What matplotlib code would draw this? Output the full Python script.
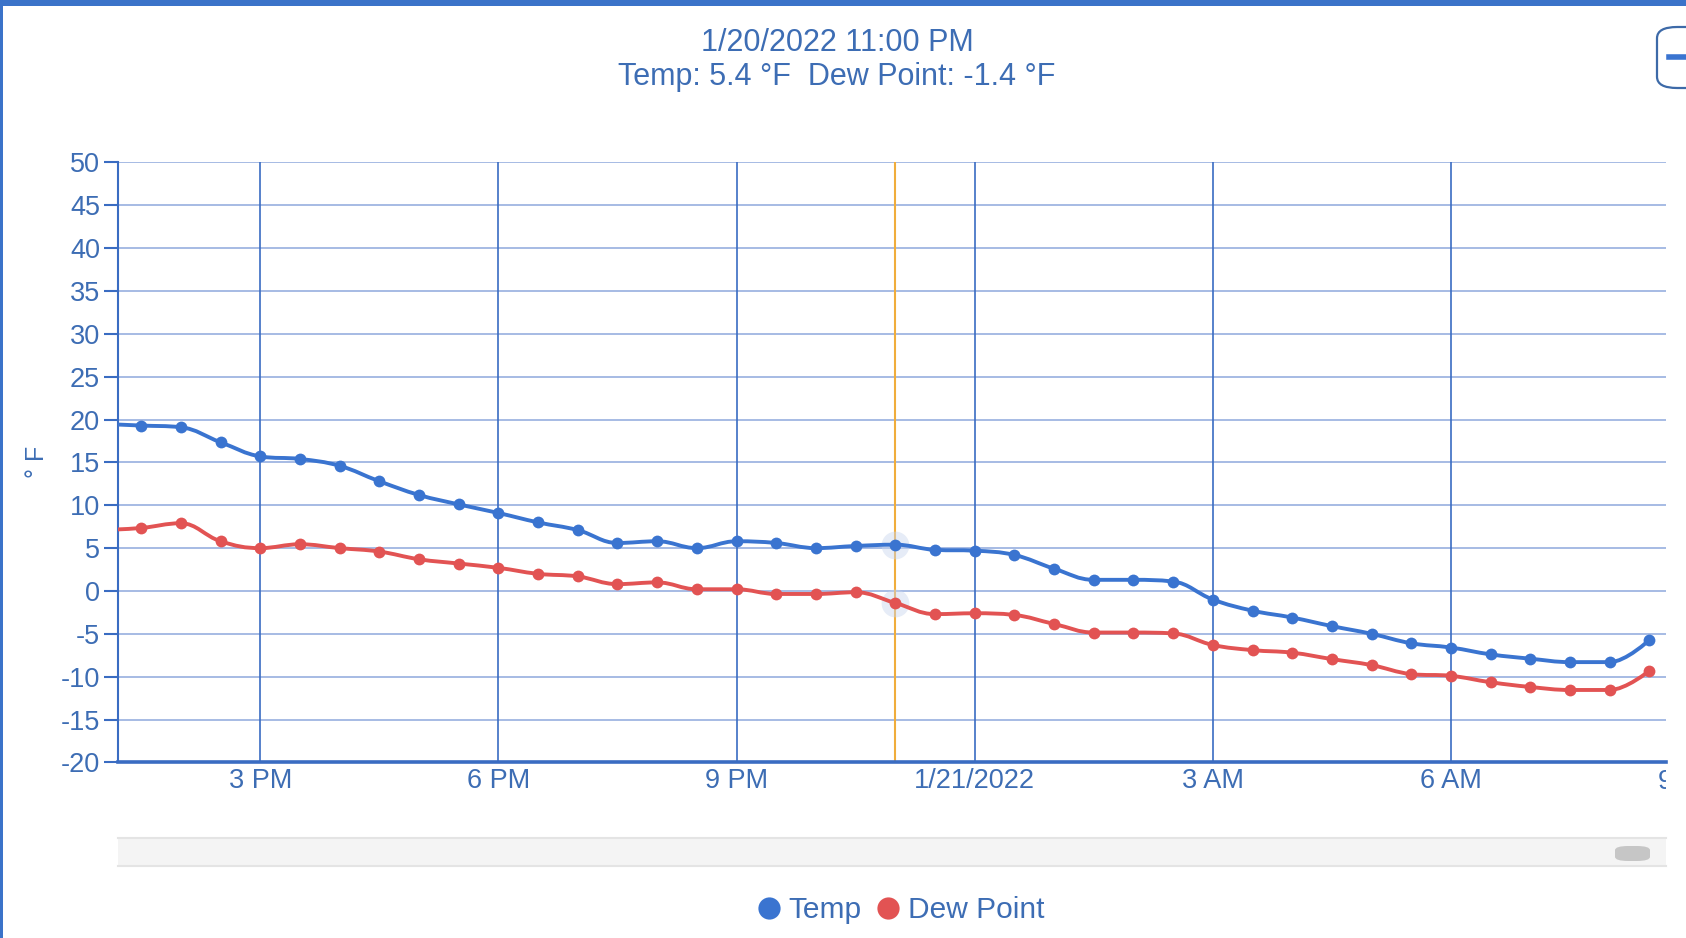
"""Temp / dew point chart, 1/20/2022 - 1/21/2022."""
import matplotlib.dates as mdates
import matplotlib.pyplot as plt
import numpy as np
import pandas as pd
from matplotlib.lines import Line2D
from matplotlib.patches import FancyBboxPatch, PathPatch, Rectangle
from matplotlib.path import Path
from matplotlib.transforms import Bbox, TransformedBbox

W, H = 1686, 938

TIMES = [
    "2022-01-20 13:00", "2022-01-20 13:30", "2022-01-20 14:00", "2022-01-20 14:30",
    "2022-01-20 15:00", "2022-01-20 15:30", "2022-01-20 16:00", "2022-01-20 16:30",
    "2022-01-20 17:00", "2022-01-20 17:30", "2022-01-20 18:00", "2022-01-20 18:30",
    "2022-01-20 19:00", "2022-01-20 19:30", "2022-01-20 20:00", "2022-01-20 20:30",
    "2022-01-20 21:00", "2022-01-20 21:30", "2022-01-20 22:00", "2022-01-20 22:30",
    "2022-01-20 23:00", "2022-01-20 23:30", "2022-01-21 00:00", "2022-01-21 00:30",
    "2022-01-21 01:00", "2022-01-21 01:30", "2022-01-21 02:00", "2022-01-21 02:30",
    "2022-01-21 03:00", "2022-01-21 03:30", "2022-01-21 04:00", "2022-01-21 04:30",
    "2022-01-21 05:00", "2022-01-21 05:30", "2022-01-21 06:00", "2022-01-21 06:30",
    "2022-01-21 07:00", "2022-01-21 07:30", "2022-01-21 08:00", "2022-01-21 08:30",
]
TEMP = [
    19.5, 19.3, 19.1, 17.35, 15.7, 15.4, 14.6, 12.8, 11.2, 10.1,
    9.1, 8.0, 7.1, 5.6, 5.8, 5.0, 5.8, 5.6, 5.0, 5.25,
    5.4, 4.8, 4.7, 4.2, 2.6, 1.3, 1.3, 1.1, -1.0, -2.3,
    -3.1, -4.1, -5.0, -6.1, -6.6, -7.4, -7.9, -8.3, -8.3, -5.7,
]
DEW = [
    7.1, 7.35, 7.9, 5.8, 5.0, 5.45, 5.0, 4.6, 3.7, 3.2,
    2.7, 2.0, 1.7, 0.8, 1.0, 0.2, 0.2, -0.35, -0.35, -0.15,
    -1.4, -2.7, -2.6, -2.8, -3.85, -4.85, -4.85, -4.95, -6.3, -6.9,
    -7.2, -7.95, -8.65, -9.7, -9.9, -10.65, -11.2, -11.55, -11.55, -9.3,
]
TICK_TIMES = ["2022-01-20 15:00", "2022-01-20 18:00", "2022-01-20 21:00",
              "2022-01-21 00:00", "2022-01-21 03:00", "2022-01-21 06:00"]
TICK_LABELS = ["3 PM", "6 PM", "9 PM", "1/21/2022", "3 AM", "6 AM"]
CUT_TICK_TIME, CUT_TICK_LABEL = "2022-01-21 09:00", "9 AM"
X_RANGE = ["2022-01-20 13:12:30", "2022-01-21 08:42:30"]
HOVER_TIME = "2022-01-20 23:00"
TITLE = "1/20/2022 11:00 PM"
SUBTITLE = "Temp: 5.4 °F  Dew Point: -1.4 °F"

BLUE = "#3a74d0"
RED = "#e25353"
TEXT = "#3d6db4"
AXIS = "#3a6cc2"
GRID = "#a6bbe4"

plt.rcParams["font.family"] = ["Liberation Sans", "DejaVu Sans"]
plt.rcParams["axes.unicode_minus"] = False


def num(ts):
    return mdates.date2num(pd.to_datetime(ts))


def spline_path(xs, ys, smoothing=1.5):
    """Highcharts-like spline through the points as cubic bezier path."""
    n = len(xs)
    left = [(xs[i], ys[i]) for i in range(n)]
    right = [(xs[i], ys[i]) for i in range(n)]
    denom = smoothing + 1
    for i in range(1, n - 1):
        px, py = xs[i], ys[i]
        lx, ly = xs[i - 1], ys[i - 1]
        nx, ny = xs[i + 1], ys[i + 1]
        lcx, lcy = (smoothing * px + lx) / denom, (smoothing * py + ly) / denom
        rcx, rcy = (smoothing * px + nx) / denom, (smoothing * py + ny) / denom
        corr = (rcy - lcy) * (rcx - px) / (rcx - lcx) + py - rcy
        lcy += corr
        rcy += corr
        if lcy > ly and lcy > py:
            lcy = max(ly, py)
            rcy = 2 * py - lcy
        elif lcy < ly and lcy < py:
            lcy = min(ly, py)
            rcy = 2 * py - lcy
        if rcy > ny and rcy > py:
            rcy = max(ny, py)
            lcy = 2 * py - rcy
        elif rcy < ny and rcy < py:
            rcy = min(ny, py)
            lcy = 2 * py - rcy
        left[i] = (lcx, lcy)
        right[i] = (rcx, rcy)
    verts = [(xs[0], ys[0])]
    codes = [Path.MOVETO]
    for i in range(1, n):
        verts += [right[i - 1], left[i], (xs[i], ys[i])]
        codes += [Path.CURVE4] * 3
    return Path(verts, codes)


def fig_xy(x, y):
    # pixel (from top-left) -> figure fraction
    return x / W, 1 - y / H


x = num(TIMES)
fig = plt.figure(figsize=(W / 100, H / 100), dpi=100)
ax = fig.add_axes([118 / W, 1 - 762.4 / H, (1666 - 118) / W, 600 / H])

# vertical time grid + hover line
for t in TICK_TIMES:
    ax.axvline(num(t), color=AXIS, lw=1.2, zorder=1)
ax.axvline(num(HOVER_TIME), color="#f0ad3c", lw=1.5, zorder=1)
ax.yaxis.grid(True, color=GRID, lw=1.4, zorder=0)
ax.set_axisbelow(True)

for vals, color in [(TEMP, BLUE), (DEW, RED)]:
    ax.add_patch(PathPatch(spline_path(x, vals), fill=False, edgecolor=color,
                           lw=2.8, zorder=3, capstyle="round", joinstyle="round"))
    ax.plot(x, vals, "o", color=color, ms=8.5, mec="none", zorder=4)
    hi = TIMES.index(HOVER_TIME)
    ax.plot(x[hi], vals[hi], "o", color="#c9d6ee", alpha=0.45, ms=20, mec="none", zorder=2)

ax.set_xlim(num(X_RANGE[0]), num(X_RANGE[1]))
ax.set_ylim(-20, 50)
ax.set_yticks(np.arange(-20, 51, 5))
ax.set_xticks(num(TICK_TIMES))
ax.set_xticklabels(TICK_LABELS)
ax.tick_params(axis="y", colors=AXIS, labelcolor=TEXT, labelsize=19.5,
               length=10, width=1.5, pad=3)
ax.tick_params(axis="x", colors=AXIS, labelcolor=TEXT, labelsize=19.5,
               length=0, pad=3.8)
for side in ["top", "right"]:
    ax.spines[side].set_visible(False)
ax.spines["left"].set_color(AXIS)
ax.spines["left"].set_linewidth(1.5)
ax.spines["bottom"].set_color(AXIS)
ax.spines["bottom"].set_linewidth(2.6)

# the 9 AM label is cut at the plot edge
cut = ax.text(num(CUT_TICK_TIME), -20.75, CUT_TICK_LABEL, ha="center", va="top",
              fontsize=19.5, color=TEXT, transform=ax.transData)
cut.set_clip_box(TransformedBbox(Bbox([[0, -0.2], [1, 1]]), ax.transAxes))
cut.set_clip_on(True)

fig.text(*fig_xy(37, 462), "° F", rotation=90, ha="center", va="center",
         fontsize=18, color=TEXT)

# title
fig.text(*fig_xy(837, 43), TITLE, ha="center", va="center", fontsize=22, color=TEXT)
fig.text(*fig_xy(837, 77), SUBTITLE, ha="center", va="center", fontsize=22, color=TEXT)

# frame of the page: top bar, left edge
fig.add_artist(Rectangle(fig_xy(0, 6), 1, 6 / H, color="#3b73c9", lw=0))
fig.add_artist(Rectangle((0, 0), 2.5 / W, 1, color="#3b73c9", lw=0))

# zoom button, cut at the right edge
fig.add_artist(FancyBboxPatch(fig_xy(1657, 88), 60 / W, 61 / H,
                              boxstyle="round,pad=0,rounding_size=0.012",
                              fc="white", ec="#3d6aa8", lw=1.6))
fig.add_artist(Line2D([1669 / W, 1690 / W], [1 - 57 / H] * 2, color=BLUE, lw=4))

# navigator scrollbar
fig.add_artist(Rectangle(fig_xy(118, 866), (1666 - 118) / W, 28 / H,
                         fc="#f4f4f4", ec="none"))
for yy in [838, 866]:
    fig.add_artist(Line2D([118 / W, 1666 / W], [1 - yy / H] * 2, color="#e4e4e4", lw=1.5))
fig.add_artist(FancyBboxPatch(fig_xy(1615, 861), 35 / W, 15 / H,
                              boxstyle="round,pad=0,rounding_size=0.008",
                              fc="#c6c6c6", ec="none", mutation_aspect=H / W))

# legend
handles = [Line2D([], [], ls="none", marker="o", ms=16, color=BLUE, mec="none"),
           Line2D([], [], ls="none", marker="o", ms=16, color=RED, mec="none")]
leg = fig.legend(handles, ["Temp", "Dew Point"], loc="center",
                 bbox_to_anchor=fig_xy(902, 910), ncol=2, frameon=False,
                 fontsize=21.5, handlelength=0.6, handletextpad=0.35, columnspacing=0.6)
for t in leg.get_texts():
    t.set_color(TEXT)

fig.savefig("out.png", dpi=100)
